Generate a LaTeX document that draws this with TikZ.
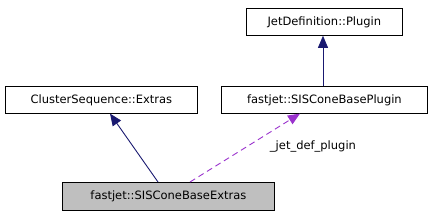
\documentclass[tikz,border=0pt]{standalone}
\usepackage{fontspec}
\setmainfont{DejaVu Sans}
\usetikzlibrary{arrows.meta}
\definecolor{edgeblue}{HTML}{191970}
\definecolor{edgepurple}{HTML}{9A32CD}
\begin{document}
\begin{tikzpicture}[x=1pt,y=-1pt,
  box/.style={draw=black, line width=0.8pt, inner sep=0pt, anchor=north west, font=\fontsize{11.5}{13}\selectfont},
  inh/.style={draw=edgeblue, line width=0.9pt, -{Triangle[length=12pt,width=10pt,fill=edgeblue]}},
  use/.style={draw=edgepurple, line width=0.9pt, dash pattern=on 6pt off 4pt, -{Triangle[length=12pt,width=10pt,fill=edgepurple]}}]
\useasboundingbox (0,0) rectangle (432,216);
\node[box, minimum width=156pt, minimum height=27pt] (jd) at (246,8) {JetDefinition::Plugin};
\node[box, minimum width=192pt, minimum height=27pt] (cs) at (5,86) {ClusterSequence::Extras};
\node[box, minimum width=206pt, minimum height=27pt] (sp) at (221,86) {fastjet::SISConeBasePlugin};
\node[box, fill=black!25, minimum width=212pt, minimum height=28pt] (se) at (62,182) {fastjet::SISConeBaseExtras};
\coordinate (seA) at (158,182);
\coordinate (csA) at (110,113.6);
\coordinate (seB) at (190,182);
\coordinate (spB) at (300,113.6);
\draw[inh] (seA) -- (csA);
\draw[use] (seB) -- (spB);
\draw[inh] (sp.north -| 323,0) -- (jd.south -| 323,0);
\node[font=\fontsize{11.5}{13}\selectfont, anchor=center] (lbl) at (313,146) {\_jet\_def\_plugin};
\end{tikzpicture}
\end{document}
